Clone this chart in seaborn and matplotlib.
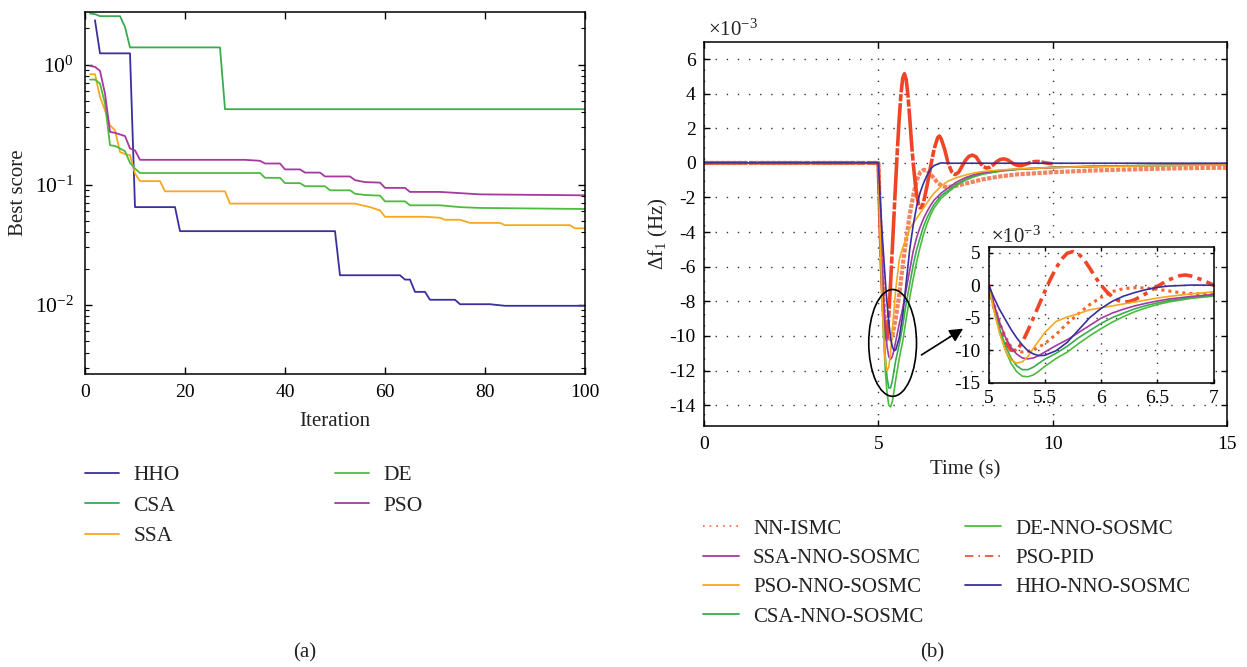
import numpy as np
import pandas as pd
import matplotlib
matplotlib.use("Agg")
import matplotlib.pyplot as plt
import seaborn as sns
from matplotlib.patches import Ellipse
from matplotlib.lines import Line2D
from matplotlib.ticker import LogLocator, LogFormatterMathtext, NullFormatter

# ---------------- data : panel (a) convergence curves ----------------
iter_HHO = [2, 3, 9, 10, 18, 19, 50, 51, 63, 64, 65, 66, 68, 69, 74, 75, 81, 84, 100]
score_HHO = [2.34, 1.24, 1.24, 0.065, 0.065, 0.041, 0.041, 0.0176, 0.0176, 0.0162, 0.0162,
             0.0128, 0.0128, 0.011, 0.011, 0.0101, 0.0101, 0.0098, 0.0098]

iter_CSA = [1, 2, 3, 7, 8, 9, 27, 28, 100]
score_CSA = [2.66, 2.63, 2.53, 2.53, 2.06, 1.39, 1.39, 0.425, 0.425]

iter_SSA = [1, 2, 3, 4, 5, 6, 7, 8, 9, 10, 11, 15, 16, 28, 29, 54, 57, 59, 60, 68, 71, 72,
            75, 77, 83, 84, 97, 98, 100]
score_SSA = [0.83, 0.83, 0.538, 0.416, 0.312, 0.284, 0.187, 0.18, 0.176, 0.124, 0.107, 0.107,
             0.088, 0.088, 0.0695, 0.0695, 0.065, 0.061, 0.054, 0.054, 0.053, 0.051, 0.051,
             0.048, 0.048, 0.046, 0.046, 0.0433, 0.0433]

iter_DE = [1, 2, 3, 4, 5, 6, 7, 8, 9, 10, 11, 35, 36, 39, 40, 43, 44, 48, 49, 53, 54, 56, 59,
           60, 64, 65, 71, 75, 79, 100]
score_DE = [0.75, 0.75, 0.695, 0.473, 0.213, 0.21, 0.2, 0.19, 0.152, 0.136, 0.125, 0.125,
            0.114, 0.114, 0.103, 0.103, 0.097, 0.097, 0.0897, 0.0897, 0.084, 0.082, 0.081,
            0.0726, 0.0726, 0.0673, 0.0673, 0.065, 0.064, 0.0627]

iter_PSO = [1, 2, 3, 4, 5, 6, 8, 9, 10, 11, 32, 35, 36, 39, 40, 43, 44, 47, 48, 53, 54, 56,
            59, 60, 64, 65, 71, 75, 79, 100]
score_PSO = [0.975, 0.957, 0.886, 0.573, 0.275, 0.27, 0.254, 0.2, 0.193, 0.161, 0.161, 0.158,
             0.15, 0.15, 0.134, 0.134, 0.126, 0.126, 0.117, 0.117, 0.109, 0.105, 0.104, 0.094,
             0.094, 0.087, 0.087, 0.085, 0.083, 0.0815]

# ---------------- data : panel (b) frequency deviation (x1e-3 Hz) ----------------
t_smc = [0, 5.0, 5.05, 5.1, 5.15, 5.2, 5.25, 5.3, 5.35, 5.4, 5.45, 5.5, 5.6, 5.7, 5.8, 5.9,
         6.0, 6.1, 6.2, 6.3, 6.4, 6.5, 6.6, 6.8, 7.0, 7.25, 7.5, 7.75, 8.0, 8.5, 9.0, 10, 11,
         12, 13, 14, 15]
df_HHO = [0, 0, -2.0, -3.8, -5.3, -6.8, -8.1, -9.2, -10.1, -10.6, -10.85, -10.8, -10.1, -8.8,
          -6.9, -5.0, -3.6, -2.5, -1.7, -1.15, -0.7, -0.35, -0.15, 0.0, -0.02, -0.02, -0.02,
          -0.02, -0.02, -0.02, -0.02, -0.02, -0.02, -0.02, -0.02, -0.02, -0.02]
df_PSO_SMC = [0, 0, -4.0, -7.5, -10.0, -11.5, -12.0, -11.8, -11.0, -9.7, -8.5, -7.3, -5.6,
              -4.9, -4.4, -3.8, -3.5, -3.2, -2.9, -2.6, -2.3, -2.0, -1.75, -1.35, -1.05, -0.85,
              -0.7, -0.58, -0.5, -0.41, -0.35, -0.27, -0.22, -0.19, -0.16, -0.14, -0.12]
df_SSA = [0, 0, -3.0, -5.8, -8.0, -9.6, -10.6, -11.2, -11.35, -11.2, -10.8, -10.3, -9.3, -8.4,
          -7.3, -6.2, -5.1, -4.3, -3.7, -3.2, -2.8, -2.45, -2.15, -1.75, -1.45, -1.1, -0.85,
          -0.68, -0.56, -0.43, -0.36, -0.27, -0.22, -0.18, -0.15, -0.13, -0.11]
df_CSA = [0, 0, -3.5, -6.8, -9.3, -11.2, -12.4, -13.0, -13.0, -12.6, -12.0, -11.4, -10.5,
          -9.4, -8.1, -7.0, -5.9, -5.0, -4.3, -3.65, -3.15, -2.75, -2.4, -1.9, -1.6, -1.22,
          -0.95, -0.76, -0.62, -0.46, -0.37, -0.25, -0.2, -0.17, -0.15, -0.13, -0.12]
df_DE = [0, 0, -3.8, -7.3, -10.0, -12.0, -13.3, -14.0, -14.1, -13.8, -13.2, -12.5, -11.3,
         -10.3, -9.0, -7.8, -6.7, -5.7, -4.85, -4.1, -3.5, -3.0, -2.6, -2.05, -1.7, -1.3, -1.0,
         -0.8, -0.65, -0.48, -0.38, -0.27, -0.21, -0.17, -0.15, -0.13, -0.12]

t_nn = [0, 5.0, 5.05, 5.1, 5.15, 5.2, 5.25, 5.3, 5.35, 5.4, 5.45, 5.5, 5.6, 5.7, 5.8, 5.9,
        6.0, 6.1, 6.2, 6.3, 6.4, 6.5, 6.6, 6.7, 6.8, 6.9, 7.0, 7.25, 7.5, 7.75, 8.0, 8.5, 9.0,
        9.5, 10, 11, 12, 13, 14, 15]
df_NN = [0, 0, -3.0, -5.9, -8.0, -9.5, -10.2, -10.3, -10.2, -10.0, -9.5, -9.0, -7.6, -5.9,
         -4.4, -3.0, -1.9, -1.0, -0.55, -0.4, -0.45, -0.65, -0.9, -1.15, -1.3, -1.38, -1.4,
         -1.32, -1.2, -1.07, -0.95, -0.78, -0.66, -0.6, -0.54, -0.45, -0.39, -0.34, -0.3, -0.28]

t_pid = [0, 5.0, 5.05, 5.1, 5.15, 5.2, 5.25, 5.3, 5.35, 5.4, 5.45, 5.5, 5.55, 5.6, 5.65, 5.7,
         5.75, 5.8, 5.85, 5.9, 5.95, 6.0, 6.05, 6.1, 6.15, 6.2, 6.25, 6.3, 6.4, 6.5, 6.6, 6.7,
         6.75, 6.8, 6.9, 7.0, 7.1, 7.2, 7.3, 7.4, 7.5, 7.6, 7.7, 7.8, 7.9, 8.0, 8.1, 8.2, 8.3,
         8.4, 8.5, 8.6, 8.7, 8.8, 8.9, 9.0, 9.1, 9.2, 9.3, 9.4, 9.5, 9.6, 9.7, 9.8, 9.9, 10.0]
df_PID = [0, 0, -3.5, -6.5, -8.8, -10.0, -10.1, -8.8, -7.0, -5.0, -3.0, -1.0, 0.9, 2.6, 4.0,
          4.9, 5.15, 4.8, 3.9, 2.6, 1.2, 0.0, -1.0, -1.8, -2.35, -2.6, -2.55, -2.25, -1.3, -0.2,
          0.8, 1.45, 1.55, 1.4, 0.8, 0.0, -0.5, -0.68, -0.55, -0.2, 0.15, 0.38, 0.45, 0.35,
          0.05, -0.2, -0.3, -0.25, -0.1, 0.08, 0.2, 0.23, 0.18, 0.05, -0.08, -0.15, -0.16, -0.1,
          -0.02, 0.05, 0.08, 0.08, 0.04, 0.0, -0.03, -0.05]

labels_a = ["HHO", "CSA", "SSA", "DE", "PSO"]
labels_b = ["NN-ISMC", "SSA-NNO-SOSMC", "PSO-NNO-SOSMC", "CSA-NNO-SOSMC",
            "DE-NNO-SOSMC", "PSO-PID", "HHO-NNO-SOSMC"]

# ---------------- style ----------------
C_BLUE = "#3a2f9c"
C_CSA = "#3aab4f"
C_DE = "#4cbc3e"
C_ORANGE = "#f8a81e"
C_PURPLE = "#a43aa0"
C_RED = "#ef4526"
C_SALMON = "#f2845f"

sns.set_theme(style="ticks", rc={
    "xtick.direction": "in", "ytick.direction": "in",
    "xtick.top": True, "ytick.right": True,
    "axes.edgecolor": "black", "axes.linewidth": 1.1,
    "xtick.color": "black", "ytick.color": "black",
    "text.color": "#222222", "axes.labelcolor": "#222222",
})
plt.rcParams['font.family'] = ['Liberation Serif', 'DejaVu Serif']
plt.rcParams['mathtext.fontset'] = 'custom'
plt.rcParams['mathtext.rm'] = 'Liberation Serif'
plt.rcParams['mathtext.it'] = 'Liberation Serif:italic'
plt.rcParams['axes.unicode_minus'] = False

W, H = 1247, 667
fig = plt.figure(figsize=(W / 100, H / 100), dpi=100)


def box(x0, y0, x1, y1):
    return [x0 / W, 1 - y1 / H, (x1 - x0) / W, (y1 - y0) / H]


axL = fig.add_axes(box(85, 12, 585, 374))
axR = fig.add_axes(box(704, 41.7, 1227, 426))
axI = fig.add_axes(box(988.5, 246.7, 1213.5, 383.3))

TICK_FS = 14

# ---------------- panel (a) ----------------
axL.set_yscale("log")
series_a = [(iter_HHO, score_HHO, C_BLUE), (iter_CSA, score_CSA, C_CSA),
            (iter_SSA, score_SSA, C_ORANGE), (iter_DE, score_DE, C_DE),
            (iter_PSO, score_PSO, C_PURPLE)]
for (xs, ys, c) in series_a:
    sns.lineplot(x=xs, y=ys, ax=axL, color=c, lw=1.3, estimator=None, sort=False)
axL.set_xlim(0, 100)
axL.set_ylim(0.00265, 2.74)
axL.set_xticks([0, 20, 40, 60, 80, 100])
axL.yaxis.set_major_locator(LogLocator(base=10, numticks=10))
axL.yaxis.set_major_formatter(LogFormatterMathtext())
axL.yaxis.set_minor_locator(LogLocator(base=10, subs=np.arange(2, 10), numticks=20))
axL.yaxis.set_minor_formatter(NullFormatter())
axL.tick_params(axis="both", which="major", length=5, width=1, labelsize=TICK_FS)
axL.tick_params(axis="y", which="major", labelsize=15.5)
axL.tick_params(axis="both", which="minor", length=3, width=0.8)
axL.tick_params(axis="x", pad=7)
axL.tick_params(axis="y", pad=8)
axL.set_xlabel("Iteration", fontsize=15)
axL.set_ylabel("Best score", fontsize=15)
axL.xaxis.set_label_coords(0.5, -0.105)
axL.yaxis.set_label_coords(-0.114, 0.5)

# ---------------- panel (b) main ----------------
def draw_b(ax, main):
    lw_thin = 1.2
    sns.lineplot(x=t_nn, y=df_NN, ax=ax, color=C_SALMON if main else "#f2662f",
                 lw=3.0 if main else 2.2, estimator=None, sort=False,
                 linestyle=(0, (1, 0.35)) if main else (0, (1, 1.3)))
    sns.lineplot(x=t_pid, y=df_PID, ax=ax, color=C_RED, lw=2.6,
                 estimator=None, sort=False,
                 linestyle=(0, (12, 0.5, 2, 0.5)) if main else (0, (4, 1.5, 1.2, 1.5)))
    sns.lineplot(x=t_smc, y=df_DE, ax=ax, color=C_DE, lw=lw_thin, estimator=None, sort=False)
    sns.lineplot(x=t_smc, y=df_CSA, ax=ax, color=C_CSA, lw=lw_thin, estimator=None, sort=False)
    sns.lineplot(x=t_smc, y=df_SSA, ax=ax, color=C_PURPLE, lw=lw_thin, estimator=None, sort=False)
    sns.lineplot(x=t_smc, y=df_PSO_SMC, ax=ax, color=C_ORANGE, lw=lw_thin, estimator=None, sort=False)
    sns.lineplot(x=t_smc, y=df_HHO, ax=ax, color=C_BLUE, lw=lw_thin, estimator=None, sort=False)


draw_b(axR, True)
axR.set_xlim(0, 15)
axR.set_ylim(-15.2, 7)
axR.set_xticks([0, 5, 10, 15])
axR.set_yticks(list(range(-14, 7, 2)))
axR.grid(True, which="major", color="#333333", linestyle=(0, (1, 7)), lw=1.0)
axR.tick_params(axis="both", which="major", length=4, width=1, labelsize=TICK_FS)
axR.tick_params(axis="x", pad=7)
axR.tick_params(axis="y", pad=6)
axR.set_xlabel("Time (s)", fontsize=15)
axR.set_ylabel("Δf$_1$ (Hz)", fontsize=15)
axR.xaxis.set_label_coords(0.5, -0.0885)
axR.yaxis.set_label_coords(-0.065, 0.5)
fig.text(708 / W, 1 - 30 / H, "×10$^{-3}$", fontsize=15, ha="left", va="center")

axR.add_patch(Ellipse((5.41, -10.4), width=1.37, height=6.17, fill=False,
                      ec="black", lw=1.2, zorder=5))
axR.annotate("", xy=(7.5, -9.49), xytext=(6.17, -11.18),
             arrowprops=dict(arrowstyle="-|>", color="black", lw=1.2,
                             mutation_scale=20), zorder=6)

# ---------------- inset ----------------
draw_b(axI, False)
axI.set_xlim(5, 7)
axI.set_ylim(-15.1, 5.9)
axI.set_xticks([5, 5.5, 6, 6.5, 7])
axI.set_xticklabels(["5", "5.5", "6", "6.5", "7"])
axI.set_yticks([5, 0, -5, -10, -15])
axI.grid(True, which="major", color="#333333", linestyle=(0, (1, 6)), lw=1.0)
axI.tick_params(axis="both", which="major", length=3, width=1, labelsize=TICK_FS)
axI.tick_params(axis="x", pad=5)
axI.tick_params(axis="y", pad=6)
axI.set_xlabel("")
axI.set_ylabel("")
fig.text(991 / W, 1 - 237 / H, "×10$^{-3}$", fontsize=15, ha="left", va="center")

# ---------------- legends ----------------
leg_kw = dict(loc="upper left", frameon=False, borderpad=0, borderaxespad=0,
              handletextpad=0.65)
hA = [Line2D([], [], color=C_BLUE, lw=1.3), Line2D([], [], color=C_CSA, lw=1.3),
      Line2D([], [], color=C_ORANGE, lw=1.3)]
hB = [Line2D([], [], color=C_DE, lw=1.3), Line2D([], [], color=C_PURPLE, lw=1.3)]
fig.legend(hA, labels_a[:3], bbox_to_anchor=(85 / W, 1 - 465 / H), fontsize=15.5,
           handlelength=1.6, labelspacing=0.49, **leg_kw)
fig.legend(hB, labels_a[3:], bbox_to_anchor=(335 / W, 1 - 465 / H), fontsize=15.5,
           handlelength=1.6, labelspacing=0.49, **leg_kw)

hC = [Line2D([], [], color="#f2662f", lw=1.2, linestyle=(0, (1, 3))),
      Line2D([], [], color=C_PURPLE, lw=1.3), Line2D([], [], color=C_ORANGE, lw=1.3),
      Line2D([], [], color=C_CSA, lw=1.3)]
hD = [Line2D([], [], color=C_DE, lw=1.3),
      Line2D([], [], color=C_RED, lw=1.2, linestyle=(0, (5, 3, 1, 3))),
      Line2D([], [], color=C_BLUE, lw=1.3)]
fig.legend(hC, labels_b[:4], bbox_to_anchor=(703 / W, 1 - 519 / H), fontsize=15,
           handlelength=1.75, labelspacing=0.47, **leg_kw)
fig.legend(hD, labels_b[4:], bbox_to_anchor=(965 / W, 1 - 519 / H), fontsize=15,
           handlelength=1.75, labelspacing=0.47, **leg_kw)

fig.text(305 / W, 1 - 653 / H, "(a)", fontsize=15, ha="center", va="center")
fig.text(932 / W, 1 - 653 / H, "(b)", fontsize=15, ha="center", va="center")

fig.savefig("out.png", dpi=100)
